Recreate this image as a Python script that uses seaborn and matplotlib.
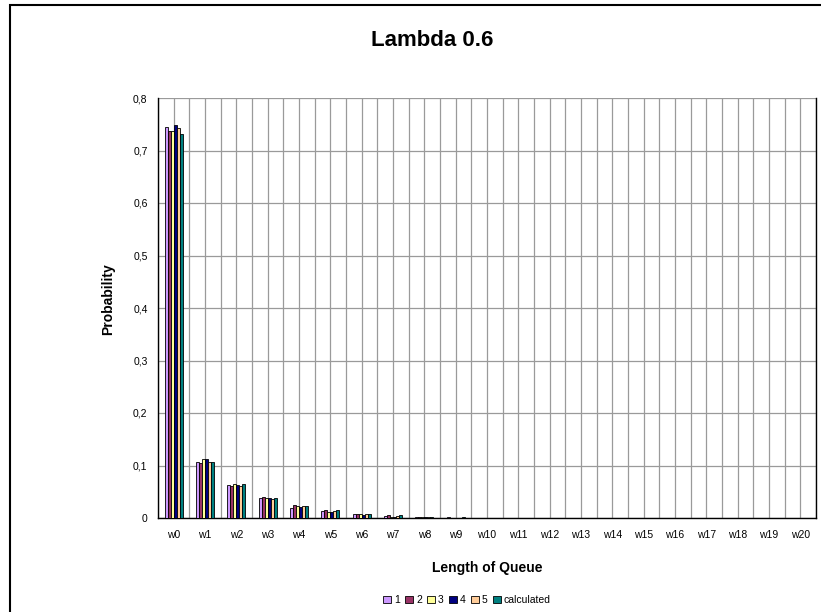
import matplotlib
matplotlib.use("Agg")
import matplotlib.pyplot as plt
from matplotlib.patches import Rectangle
from matplotlib.ticker import FixedLocator, FuncFormatter
import seaborn as sns
import pandas as pd

# Queue-length categories
queue_lengths = [f"w{i}" for i in range(21)]

# Simulated runs 1-5 and the calculated distribution
run_1 = [0.745, 0.107, 0.062, 0.038, 0.020, 0.013, 0.007, 0.003, 0.002, 0.001, 0.0006,
         0.0004, 0.0002, 0.0001, 0.0001, 0.0, 0.0, 0.0, 0.0, 0.0, 0.0]
run_2 = [0.738, 0.105, 0.061, 0.040, 0.024, 0.015, 0.008, 0.005, 0.002, 0.0008, 0.0005,
         0.0003, 0.0002, 0.0001, 0.0, 0.0, 0.0, 0.0, 0.0, 0.0, 0.0]
run_3 = [0.737, 0.112, 0.064, 0.038, 0.022, 0.011, 0.007, 0.002, 0.002, 0.0008, 0.0004,
         0.0002, 0.0001, 0.0001, 0.0, 0.0, 0.0, 0.0, 0.0, 0.0, 0.0]
run_4 = [0.748, 0.112, 0.062, 0.038, 0.021, 0.011, 0.006, 0.002, 0.002, 0.0008, 0.0004,
         0.0002, 0.0001, 0.0, 0.0, 0.0, 0.0, 0.0, 0.0, 0.0, 0.0]
run_5 = [0.742, 0.106, 0.061, 0.037, 0.022, 0.013, 0.008, 0.003, 0.002, 0.0008, 0.0004,
         0.0002, 0.0001, 0.0, 0.0, 0.0, 0.0, 0.0, 0.0, 0.0, 0.0]
calculated = [0.731, 0.107, 0.064, 0.039, 0.022, 0.015, 0.008, 0.005, 0.002, 0.001, 0.0006,
              0.0004, 0.0002, 0.0001, 0.0001, 0.0, 0.0, 0.0, 0.0, 0.0, 0.0]

series_names = ["1", "2", "3", "4", "5", "calculated"]
series_values = [run_1, run_2, run_3, run_4, run_5, calculated]
series_colors = ["#CC99FF", "#993366", "#FFFF99", "#000080", "#FFCC99", "#008080"]

y_ticks = [0.0, 0.1, 0.2, 0.3, 0.4, 0.5, 0.6, 0.7, 0.8]

df = pd.DataFrame({
    "queue": [q for _ in series_names for q in queue_lengths],
    "series": [s for s in series_names for _ in queue_lengths],
    "prob": [v for vals in series_values for v in vals],
})

sns.set_style("white")
plt.rcParams["font.family"] = ["Liberation Sans", "DejaVu Sans"]
plt.rcParams.update({"text.color": "black", "axes.labelcolor": "black",
                     "xtick.color": "black", "ytick.color": "black"})

W, H = 821, 612
fig = plt.figure(figsize=(W / 100, H / 100), dpi=100)
ax = fig.add_axes([158 / W, 1 - 518 / H, (816 - 158) / W, (518 - 98) / H])

sns.barplot(data=df, x="queue", y="prob", hue="series", order=queue_lengths,
            hue_order=series_names, palette=series_colors, width=0.585,
            edgecolor="black", linewidth=0.6, saturation=1, ax=ax, zorder=3)

ax.set_xlim(-0.5, len(queue_lengths) - 0.5)
ax.set_ylim(0, 0.8)

# Axis ticks: labels at category centres, marks at category boundaries
ax.set_xticks(range(len(queue_lengths)))
ax.set_xticklabels(queue_lengths, fontsize=7.5)
ax.xaxis.set_minor_locator(FixedLocator([i - 0.5 for i in range(len(queue_lengths) + 1)]))
ax.tick_params(axis="x", which="major", length=0, pad=9, labelcolor="black")
ax.tick_params(axis="x", which="minor", length=7, width=1, direction="inout", color="black")
ax.set_yticks(y_ticks)
ax.yaxis.set_major_formatter(FuncFormatter(lambda v, _: "0" if v == 0 else f"{v:.1f}".replace(".", ",")))
ax.tick_params(axis="y", which="major", length=7, width=1, direction="inout",
               color="black", labelcolor="black", labelsize=7.5, pad=4)

ax.grid(True, which="both", axis="x", color="#9a9a9a", linewidth=0.9, zorder=0)
ax.grid(True, which="major", axis="y", color="#9a9a9a", linewidth=0.9, zorder=0)
ax.set_axisbelow(True)

for side in ["left", "bottom", "right"]:
    ax.spines[side].set_visible(True)
    ax.spines[side].set_color("black")
    ax.spines[side].set_linewidth(1.0)
ax.spines["top"].set_visible(False)

ax.set_xlabel("Length of Queue", fontsize=10, fontweight="bold", color="black")
ax.set_ylabel("Probability", fontsize=10, fontweight="bold", color="black")
ax.xaxis.set_label_coords(0.5, -0.102)
ax.yaxis.set_label_coords(-0.065, 0.52)

fig.text(432 / W, 1 - 40 / H, "Lambda 0.6", fontsize=16, fontweight="bold",
         ha="center", va="center", color="black")

handles, labels = ax.get_legend_handles_labels()
ax.legend_.remove()
fig.legend(handles, labels, loc="center", bbox_to_anchor=(467 / W, 1 - 600 / H),
           ncol=6, frameon=False, fontsize=7.5, handlelength=0.75, handleheight=0.75,
           handletextpad=0.3, columnspacing=0.5, borderaxespad=0, labelcolor="black")

# Chart-area frame
fig.add_artist(Rectangle((10 / W, -0.02), 1.0, 1 - 5 / H + 0.02, transform=fig.transFigure,
                         fill=False, edgecolor="black", linewidth=1.5, clip_on=False))

fig.savefig("out.png", dpi=100)
